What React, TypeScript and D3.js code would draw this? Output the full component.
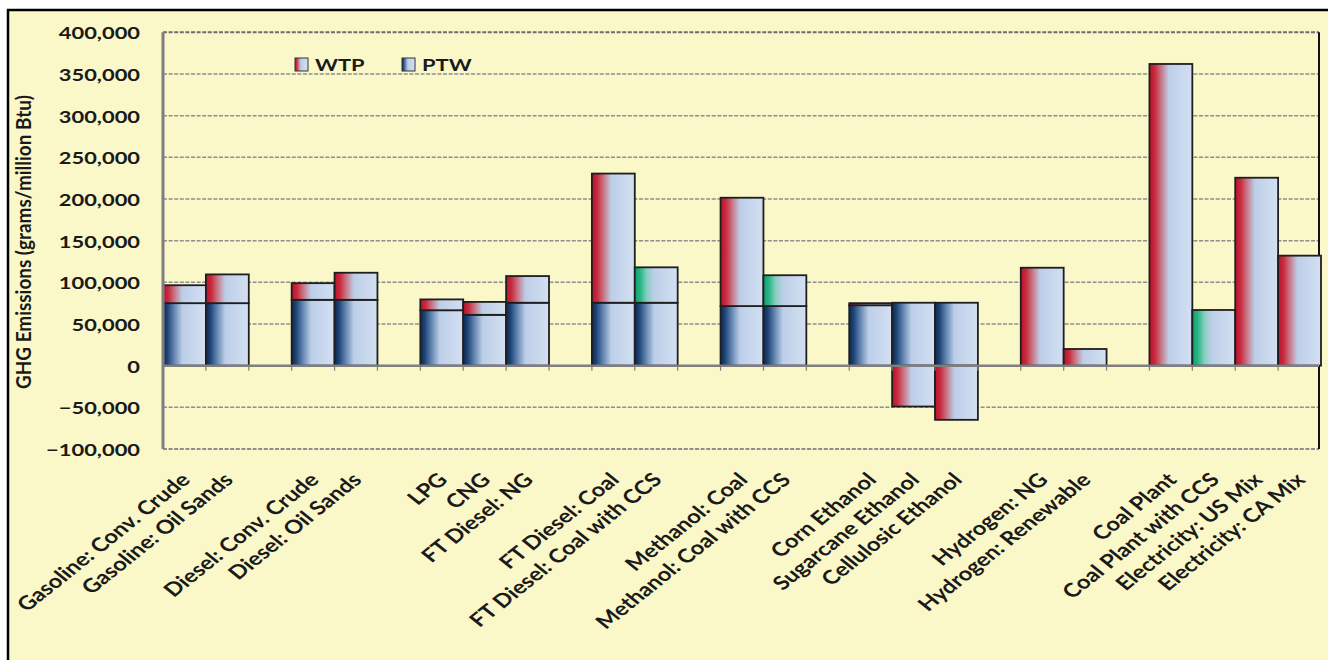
import React from "react";
import * as d3 from "d3";

// ---- data ----
const categories: string[] = [
  "Gasoline: Conv. Crude", "Gasoline: Oil Sands", "",
  "Diesel: Conv. Crude", "Diesel: Oil Sands", "",
  "LPG", "CNG", "FT Diesel: NG", "",
  "FT Diesel: Coal", "FT Diesel: Coal with CCS", "",
  "Methanol: Coal", "Methanol: Coal with CCS", "",
  "Corn Ethanol", "Sugarcane Ethanol", "Cellulosic Ethanol", "",
  "Hydrogen: NG", "Hydrogen: Renewable", "",
  "Coal Plant", "Coal Plant with CCS", "Electricity: US Mix", "Electricity: CA Mix",
];
const ptwValues: (number | null)[] = [
  75000, 75000, null,
  79000, 79000, null,
  66500, 61000, 75500, null,
  75500, 75500, null,
  71500, 71500, null,
  72500, 75500, 75500, null,
  0, 0, null,
  0, 0, 0, 0,
];
const wtpValues: (number | null)[] = [
  21500, 34500, null,
  20000, 32500, null,
  13000, 15500, 32000, null,
  155000, 42500, null,
  130000, 37000, null,
  2500, -49000, -65000, null,
  117500, 20000, null,
  362000, 66800, 225500, 132000,
];
const yTicks: number[] = [400000, 350000, 300000, 250000, 200000, 150000, 100000, 50000, 0, -50000, -100000];
const seriesNames: string[] = ["WTP", "PTW"];
const yTitle = "GHG Emissions (grams/million Btu)";

const W = 1328;
const H = 660;
const FONT = "Lato, 'Open Sans', sans-serif";
const SX = 1.25; // horizontal stretch of the original picture

export default function App() {
  const x = d3
    .scaleBand<number>()
    .domain(categories.map((_, i) => i))
    .range([163, 1321])
    .padding(0);
  const y = d3.scaleLinear().domain([-100000, 400000]).range([449, 32.3]);
  const fmt = d3.format(",");
  const bw = x.bandwidth();
  const plotRight = 1319;
  const y0 = y(0);

  const bars: React.ReactNode[] = [];
  categories.forEach((c, i) => {
    const p = ptwValues[i];
    const w = wtpValues[i];
    if (p == null || w == null) return;
    const x0 = x(i)!;
    const grad = c.includes("CCS") ? "url(#gGreen)" : "url(#gRed)";
    if (p > 0) {
      bars.push(
        <rect key={"p" + i} x={x0} y={y(p)} width={bw} height={y0 - y(p)}
          fill="url(#gBlue)" stroke="#1e1e1e" strokeWidth={1.8} />
      );
    }
    if (w >= 0) {
      const base = p > 0 ? p : 0;
      bars.push(
        <rect key={"w" + i} x={x0} y={y(base + w)} width={bw} height={y(base) - y(base + w)}
          fill={grad} stroke="#1e1e1e" strokeWidth={1.8} />
      );
    } else {
      bars.push(
        <rect key={"w" + i} x={x0} y={y0} width={bw} height={y(w) - y0}
          fill={grad} stroke="#1e1e1e" strokeWidth={1.8} />
      );
    }
  });

  return (
    <svg width={W} height={H} style={{ position: "fixed", left: 0, top: 0, background: "#fff" }}>
      <defs>
        <linearGradient id="gBlue" x1="0" x2="1" y1="0" y2="0">
          <stop offset="0" stopColor="#0c2a55" />
          <stop offset="0.1" stopColor="#1d4274" />
          <stop offset="0.25" stopColor="#5e81ae" />
          <stop offset="0.45" stopColor="#bccee8" />
          <stop offset="1" stopColor="#d4e0f2" />
        </linearGradient>
        <linearGradient id="gRed" x1="0" x2="1" y1="0" y2="0">
          <stop offset="0" stopColor="#b8142c" />
          <stop offset="0.12" stopColor="#c8283c" />
          <stop offset="0.28" stopColor="#c97a8a" />
          <stop offset="0.45" stopColor="#bccee8" />
          <stop offset="1" stopColor="#d4e0f2" />
        </linearGradient>
        <linearGradient id="gGreen" x1="0" x2="1" y1="0" y2="0">
          <stop offset="0" stopColor="#10a06e" />
          <stop offset="0.12" stopColor="#22b482" />
          <stop offset="0.28" stopColor="#86cfbe" />
          <stop offset="0.45" stopColor="#bccee8" />
          <stop offset="1" stopColor="#d4e0f2" />
        </linearGradient>
      </defs>

      {/* outer frame */}
      <rect x={8} y={10} width={W + 20} height={H + 20} fill="#faf7c8" stroke="#000" strokeWidth={2.5} />

      {/* grid */}
      {yTicks.filter((t) => t !== 0).map((t) => (
        <line key={"g" + t} x1={163} x2={plotRight} y1={y(t)} y2={y(t)}
          stroke={t === 400000 ? "#6e6e6e" : "#8e8e8e"} strokeWidth={t === 400000 || t === -100000 ? 2 : 1.5}
          strokeDasharray="4,1.6" />
      ))}
      {/* right border */}
      <line x1={plotRight} x2={plotRight} y1={y(400000)} y2={y(-100000)} stroke="#111" strokeWidth={2} />

      {/* bars */}
      {bars}

      {/* zero axis & ticks */}
      <line x1={163} x2={plotRight} y1={y0} y2={y0} stroke="#7f7f7f" strokeWidth={2.5} />
      {categories.map((_, i) => (
        <line key={"t" + i} x1={x(i)!} x2={x(i)!} y1={y0} y2={y0 + 5} stroke="#7f7f7f" strokeWidth={1.2} />
      ))}
      {/* left axis */}
      <line x1={163} x2={163} y1={y(400000)} y2={y(-100000)} stroke="#7f7f7f" strokeWidth={3} />

      {/* y tick labels */}
      {yTicks.map((t) => (
        <text key={"yl" + t} transform={`translate(140,${y(t)}) scale(${SX},1)`} textAnchor="end"
          dominantBaseline="central" fontFamily={FONT} fontWeight={700} fontSize={17.5} fill="#1a1a1a">
          {fmt(t)}
        </text>
      ))}

      {/* y title */}
      <text transform={`translate(31,242) scale(${SX},1) rotate(-90)`} textAnchor="middle"
        fontFamily={FONT} fontWeight={700} fontSize={16.5} fill="#1a1a1a" textLength={294}
        lengthAdjust="spacingAndGlyphs">
        {yTitle}
      </text>

      {/* category labels */}
      {categories.map((c, i) =>
        c ? (
          <text key={"c" + i} transform={`translate(${x(i)! + bw / 2 + 7},481) scale(${SX},1) rotate(-45)`}
            textAnchor="end" fontFamily={FONT} fontWeight={700} fontSize={19} fill="#1a1a1a">
            {c}
          </text>
        ) : null
      )}

      {/* legend */}
      {seriesNames.map((s, i) => (
        <g key={"lg" + s} transform={`translate(${295 + i * 107},58)`}>
          <rect x={0} y={0} width={13} height={13} fill={i === 0 ? "url(#gRed)" : "url(#gBlue)"}
            stroke="#333" strokeWidth={1} />
          <text transform={`translate(20,13) scale(${SX},1)`} fontFamily={FONT} fontWeight={700}
            fontSize={17.5} fill="#1a1a1a">
            {s}
          </text>
        </g>
      ))}
    </svg>
  );
}
